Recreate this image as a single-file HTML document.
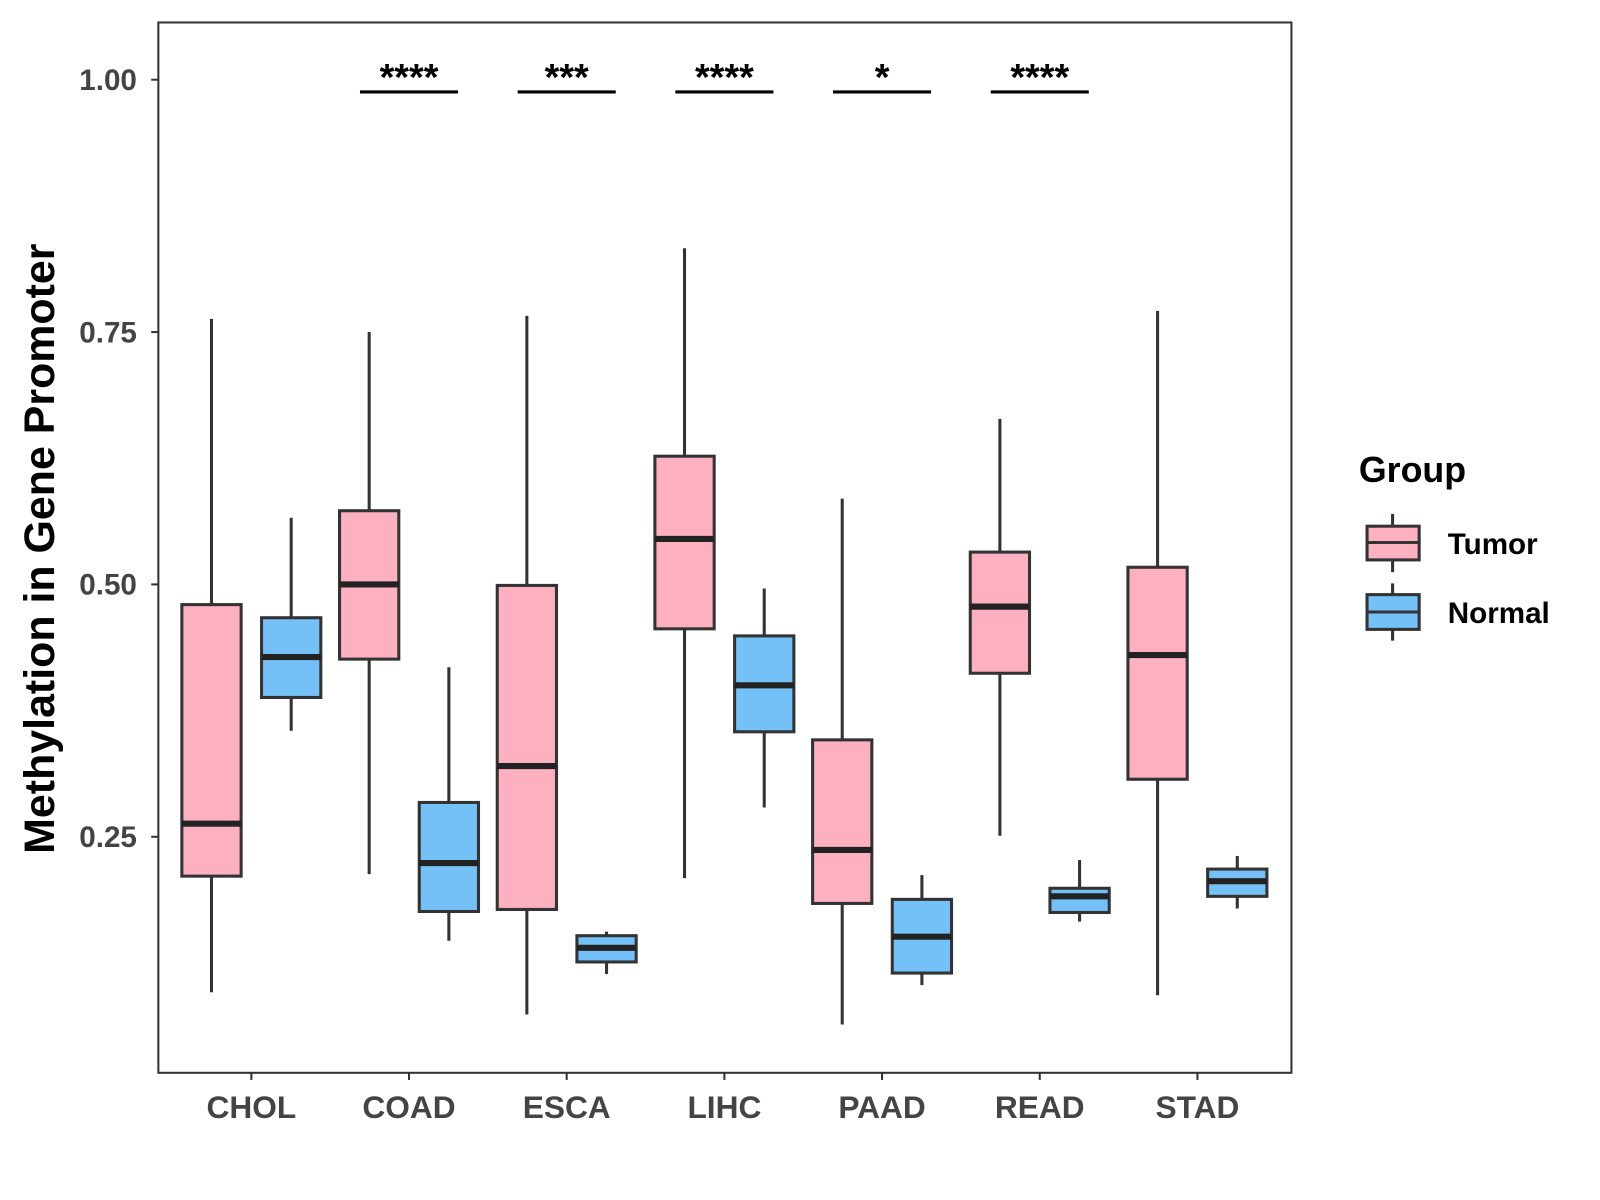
<!DOCTYPE html>
<html><head><meta charset="utf-8"><style>
html,body{margin:0;padding:0;background:#fff}
svg{display:block}
text{font-family:"Liberation Sans",Arial,sans-serif;font-weight:bold}
</style></head><body>
<svg id="chart" width="1600" height="1200" viewBox="0 0 1566 1174.5" xmlns="http://www.w3.org/2000/svg">
<rect x="155" y="22" width="1109" height="1028" fill="#fff" stroke="#333" stroke-width="2"/>
<g id="axes"></g>
<g id="boxes"></g>
<g id="sig"></g>
<text transform="translate(53,537) rotate(-90)" text-anchor="middle" font-size="42" fill="#000">Methylation in Gene Promoter</text>
<g>
<text x="1330" y="472" font-size="35" fill="#000">Group</text>
<g>
<line x1="1363" y1="503" x2="1363" y2="560" stroke="#333" stroke-width="3"/>
<rect x="1338" y="515" width="51" height="33" fill="#FDB0C0" stroke="#333" stroke-width="3"/>
<line x1="1338" y1="531" x2="1389" y2="531" stroke="#333" stroke-width="3"/>
<text x="1417" y="542" font-size="29" fill="#000">Tumor</text>
</g>
<g>
<line x1="1363" y1="571" x2="1363" y2="627" stroke="#333" stroke-width="3"/>
<rect x="1338" y="582" width="51" height="34" fill="#74C1F8" stroke="#333" stroke-width="3"/>
<line x1="1338" y1="599" x2="1389" y2="599" stroke="#333" stroke-width="3"/>
<text x="1417" y="610" font-size="29" fill="#000">Normal</text>
</g>
</g>
</svg>
<script>
const categories = ["CHOL","COAD","ESCA","LIHC","PAAD","READ","STAD"];
// [whiskerHigh, q3, median, q1, whiskerLow]
const tumorStats = [
 [0.763,0.480,0.263,0.211,0.096],
 [0.750,0.573,0.500,0.426,0.213],
 [0.766,0.499,0.320,0.178,0.074],
 [0.833,0.627,0.545,0.456,0.209],
 [0.585,0.346,0.237,0.184,0.064],
 [0.664,0.532,0.478,0.412,0.251],
 [0.771,0.517,0.430,0.307,0.093]
];
const normalStats = [
 [0.566,0.467,0.428,0.388,0.355],
 [0.418,0.284,0.224,0.176,0.147],
 [0.156,0.152,0.140,0.126,0.114],
 [0.496,0.449,0.400,0.354,0.279],
 [0.212,0.188,0.151,0.115,0.103],
 [0.227,0.199,0.191,0.175,0.166],
 [0.231,0.218,0.206,0.191,0.179]
];
const sigLabels = ["","****","***","****","*","****",""];
const yTicks = [0.25,0.50,0.75,1.00];

const NS="http://www.w3.org/2000/svg";
function yS(v){return 78+(1-v)*988;}
function xS(i){return 246+i*154.33;}
function mk(tag,attrs,parent){const e=document.createElementNS(NS,tag);for(const k in attrs)e.setAttribute(k,attrs[k]);parent.appendChild(e);return e;}
const axes=document.getElementById('axes'),boxes=document.getElementById('boxes'),sig=document.getElementById('sig');
yTicks.forEach(t=>{
 const y=yS(t);
 const l=mk('line',{x1:148,x2:155,y1:y,y2:y,stroke:'#333','stroke-width':2},axes);
 
 
 const tx=mk('text',{x:134,y:y+10,'text-anchor':'end','font-size':29,fill:'#444'},axes);
 tx.textContent=t.toFixed(2);
 
 
});
categories.forEach((c,i)=>{
 const x=xS(i);
 const l=mk('line',{x1:x,x2:x,y1:1050,y2:1057,stroke:'#333','stroke-width':2},axes);
 
 
 const tx=mk('text',{x:x,y:1094,'text-anchor':'middle','font-size':31,fill:'#444'},axes);
 tx.textContent=c;
 
 
 [[tumorStats[i],-39,'#FDB0C0','tumor'],[normalStats[i],39,'#74C1F8','normal']].forEach(([s,off,col,nm])=>{
  const cx=x+off,w=58;
  const g=mk('g',{},boxes);
  
  
  mk('line',{x1:cx,x2:cx,y1:yS(s[0]),y2:yS(s[4]),stroke:'#333','stroke-width':3},g);
  mk('rect',{x:cx-w/2,y:yS(s[1]),width:w,height:yS(s[3])-yS(s[1]),fill:col,stroke:'#333','stroke-width':3},g);
  mk('line',{x1:cx-w/2,x2:cx+w/2,y1:yS(s[2]),y2:yS(s[2]),stroke:'#222','stroke-width':6},g);
 });
 if(sigLabels[i]){
  const g=mk('g',{},sig);
  
  
  mk('line',{x1:x-48,x2:x+48,y1:90,y2:90,stroke:'#000','stroke-width':3},g);
  const t=mk('text',{x:x,y:88,'text-anchor':'middle','font-size':37,fill:'#000'},g);
  t.textContent=sigLabels[i];
 }
});
</script>
</body></html>
